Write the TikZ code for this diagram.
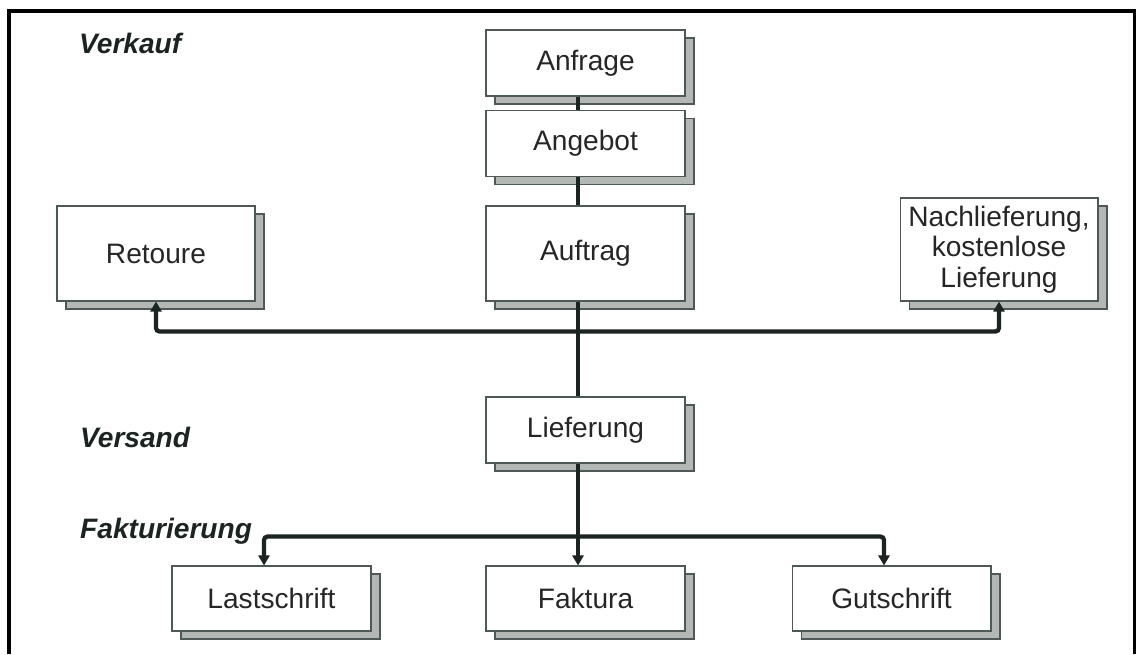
\documentclass[tikz,border=0pt]{standalone}
\usepackage{fontspec}
\setmainfont{Liberation Sans}
\usepackage{xcolor}
\usepackage{tikz}
\usetikzlibrary{arrows.meta,positioning,shadows,calc}
\definecolor{boxline}{HTML}{4E5856}
\definecolor{shade}{HTML}{B4B8B4}
\definecolor{ink}{HTML}{1C2422}

\begin{document}
\begin{tikzpicture}[x=0.02cm, y=-0.02cm, font=\fontsize{16}{17.5}\selectfont, >={Triangle[length=2mm,width=2.2mm]},
  bx/.style={draw=boxline, line width=0.6pt, fill=white, text=black!85, align=center, inner sep=1pt,
    minimum width=3.98cm, minimum height=#1,
    drop shadow={shadow xshift=0.18cm, shadow yshift=-0.16cm, fill=shade, draw=boxline, opacity=1}},
  bx/.default=1.32cm,
  lnk/.style={draw=ink, line width=0.85mm, rounded corners=2pt},
  phase/.style={anchor=base west, font=\fontsize{16}{17.5}\selectfont\bfseries\itshape, text=ink}]
\useasboundingbox (0,0) rectangle (1136,654);
% frame, open at the bottom
\draw[line width=0.08cm] (9,654) |- (1134.5,11) -- (1134.5,654);
% phases
\node[phase] (verkauf) at (73,53) {Verkauf};
\node[phase] (versand) at (74,447) {Versand};
\node[phase] (faktur) at (74,538) {Fakturierung};
% documents
\node[bx] (anfrage) at (585.5,63) {Anfrage};
\node[bx] (angebot) at (585.5,143.5) {Angebot};
\node[bx=1.9cm] (auftrag) at (585.5,253.5) {Auftrag};
\node[bx=1.9cm, minimum width=3.96cm] (retoure) at (156,253.5) {Retoure};
\node[bx=2.06cm, minimum width=3.96cm] (nachl) at (999,249.5) {Nachlieferung,\\kostenlose\\Lieferung};
\node[bx] (lieferung) at (585.5,430) {Lieferung};
\foreach \nm/\lab/\x in {lastschrift/Lastschrift/271.5, faktura/Faktura/585.5, gutschrift/Gutschrift/891.5}
  \node[bx=1.3cm] (\nm) at (\x,598.5) {\lab};
% flow
\coordinate (split) at ($([xshift=-1.5mm]auftrag.south)+(0,30)$);
\coordinate (fork) at ($([xshift=-1.5mm]lieferung.south)+(0,73)$);
\draw[lnk] ([xshift=-1.5mm]anfrage.south) -- ([xshift=-1.5mm]angebot.north);
\draw[lnk] ([xshift=-1.5mm]angebot.south) -- ([xshift=-1.5mm]auftrag.north);
\draw[lnk] ([xshift=-1.5mm]auftrag.south) -- ([xshift=-1.5mm]lieferung.north);
\draw[lnk, <->] (retoure.south) |- (split) -| (nachl.south);
\draw[lnk, ->] ([xshift=-1.5mm]lieferung.south) -- ([xshift=-1.5mm]faktura.north);
\draw[lnk, <->] ([xshift=-1.5mm]lastschrift.north) |- (fork) -| ([xshift=-1.5mm]gutschrift.north);
\end{tikzpicture}
\end{document}
